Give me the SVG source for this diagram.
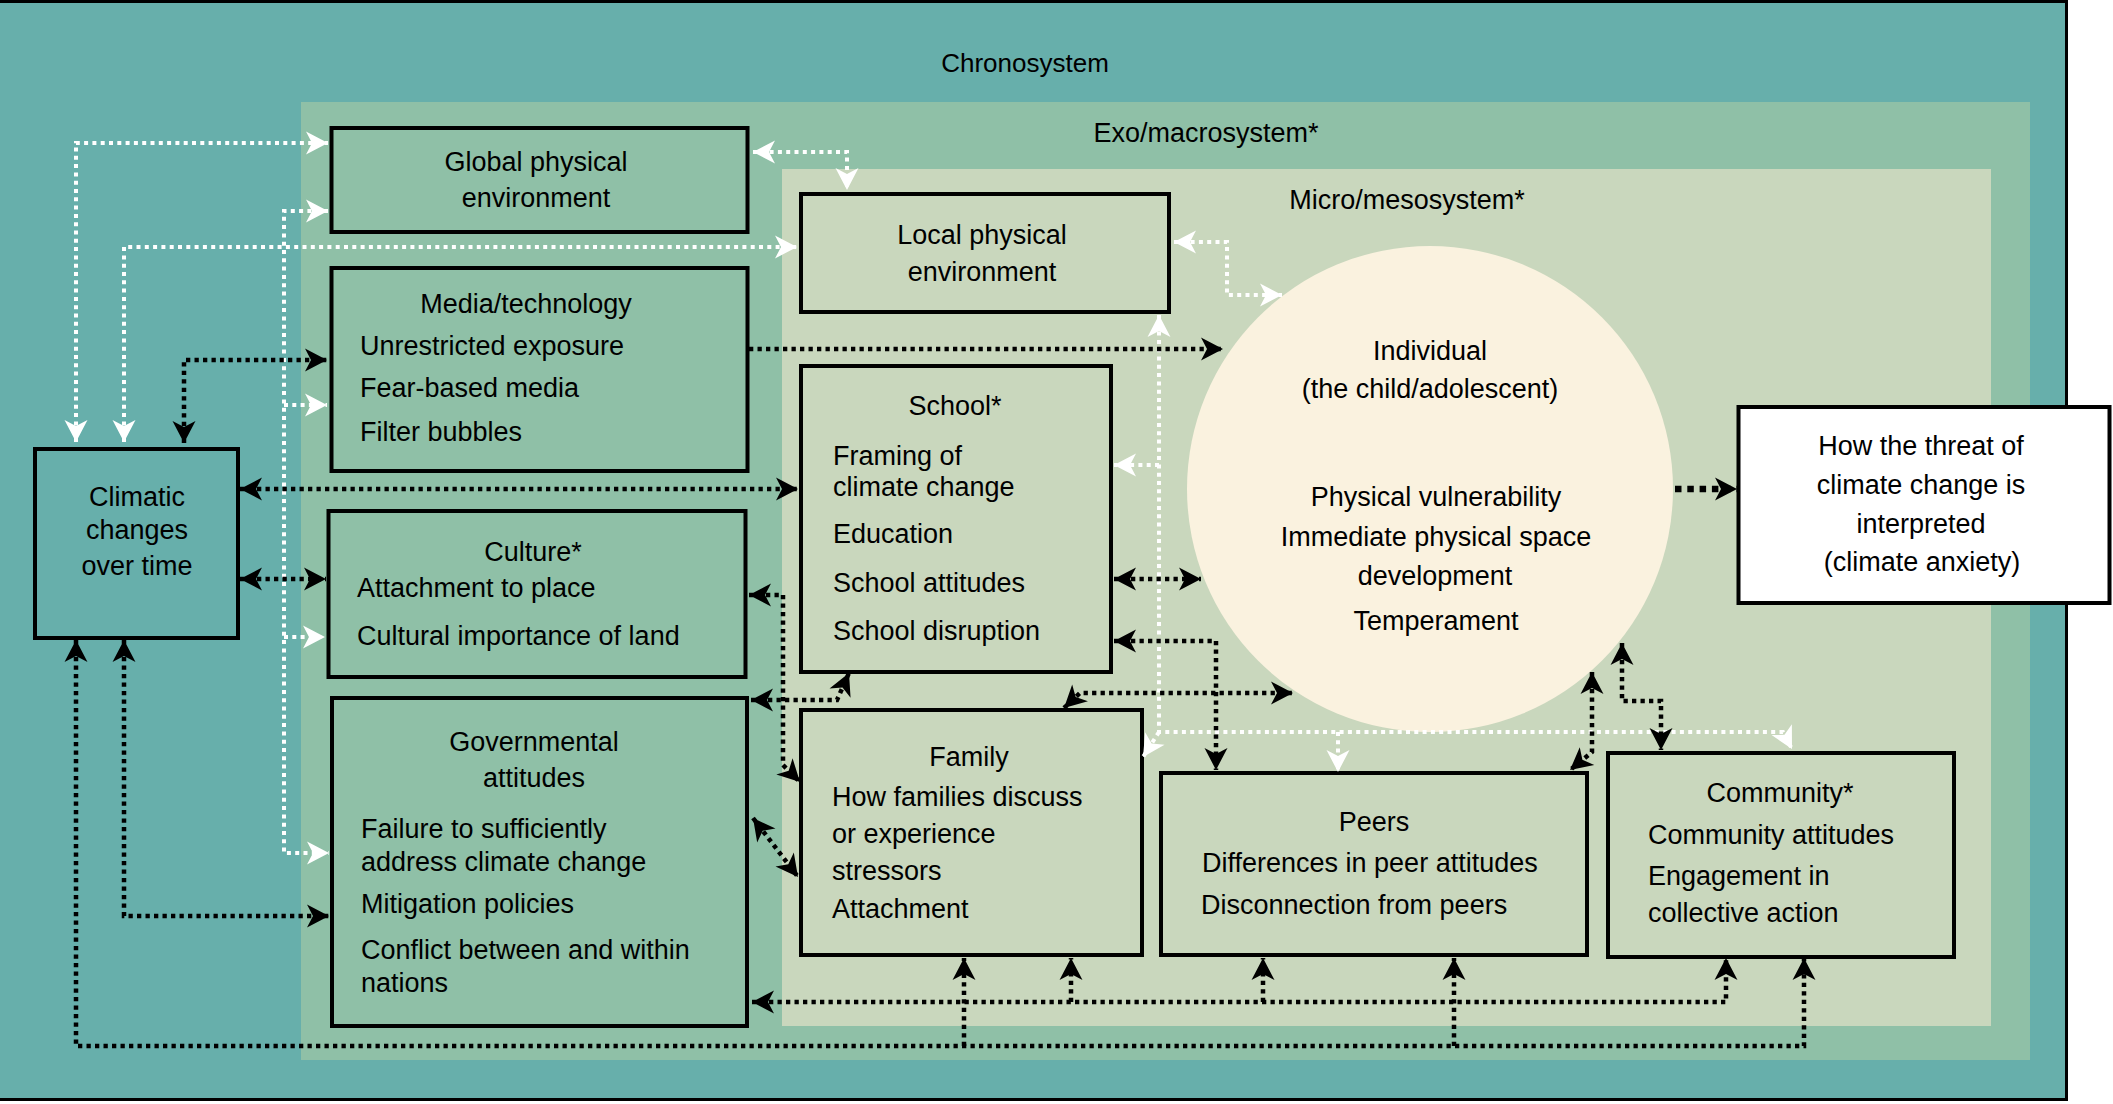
<svg xmlns="http://www.w3.org/2000/svg" width="2113" height="1104" viewBox="0 0 2113 1104">
<defs>
<style>
.t{font-family:"Liberation Sans",Arial,Helvetica,sans-serif;font-size:27px;fill:#000}
.c{text-anchor:middle}
.box{stroke:#000;stroke-width:4}
.fexo{fill:#8fc0a7}
.fmic{fill:#c9d7bd}
.fchr{fill:#67afab}
.w{fill:none;stroke:#fff;stroke-width:4;stroke-dasharray:4 4.3}
.b{fill:none;stroke:#000;stroke-width:4.5;stroke-dasharray:4.3 4.2}
.bt{fill:none;stroke:#000;stroke-width:6.5;stroke-dasharray:6.5 5.8}
</style>
<marker id="aw" viewBox="-24 -12 26 24" markerWidth="26" markerHeight="24" refX="0" refY="0" markerUnits="userSpaceOnUse" orient="auto-start-reverse">
<path d="M0,0 L-22,-11.5 L-16,0 L-22,11.5 Z" fill="#fff"/>
</marker>
<marker id="ab" viewBox="-24 -12 26 24" markerWidth="26" markerHeight="24" refX="0" refY="0" markerUnits="userSpaceOnUse" orient="auto-start-reverse">
<path d="M0,0 L-22,-11.5 L-16,0 L-22,11.5 Z" fill="#000"/>
</marker>
</defs>

<g id="chronosystem">
<rect x="-3" y="1.5" width="2069.5" height="1098" class="fchr" stroke="#000" stroke-width="3"/>
<text class="t c" x="1025" y="72" style="font-size:26px">Chronosystem</text>
</g>
<g id="exomacrosystem">
<rect x="301" y="102" width="1729" height="958" class="fexo"/>
<text class="t c" x="1206" y="142">Exo/macrosystem*</text>
</g>
<g id="micromesosystem">
<rect x="782" y="169" width="1209" height="857" class="fmic"/>
<text class="t c" x="1407" y="209">Micro/mesosystem*</text>
</g>

<g id="individual">
<circle cx="1430" cy="489" r="243" fill="#faf2df"/>
<text class="t c" x="1430" y="360">Individual</text>
<text class="t c" x="1430" y="398">(the child/adolescent)</text>
<text class="t c" x="1436" y="506">Physical vulnerability</text>
<text class="t c" x="1436" y="546">Immediate physical space</text>
<text class="t c" x="1435" y="585">development</text>
<text class="t c" x="1436" y="630">Temperament</text>
</g>

<g id="global-physical">
<rect x="331.5" y="128" width="416" height="104" class="box fexo"/>
<text class="t c" x="536" y="171">Global physical</text>
<text class="t c" x="536" y="207">environment</text>
</g>
<g id="media-technology">
<rect x="331.5" y="268" width="416" height="203" class="box fexo"/>
<text class="t c" x="526" y="313">Media/technology</text>
<text class="t" x="360" y="355">Unrestricted exposure</text>
<text class="t" x="360" y="397">Fear-based media</text>
<text class="t" x="360" y="441">Filter bubbles</text>
</g>
<g id="culture">
<rect x="328.5" y="511" width="417" height="166" class="box fexo"/>
<text class="t c" x="533" y="561">Culture*</text>
<text class="t" x="357" y="597">Attachment to place</text>
<text class="t" x="357" y="645">Cultural importance of land</text>
</g>
<g id="governmental-attitudes">
<rect x="332" y="698" width="415" height="328" class="box fexo"/>
<text class="t c" x="534" y="751">Governmental</text>
<text class="t c" x="534" y="787">attitudes</text>
<text class="t" x="361" y="838">Failure to sufficiently</text>
<text class="t" x="361" y="871">address climate change</text>
<text class="t" x="361" y="913">Mitigation policies</text>
<text class="t" x="361" y="959">Conflict between and within</text>
<text class="t" x="361" y="992">nations</text>
</g>
<g id="climatic-changes">
<rect x="35" y="449" width="203" height="189" class="box fchr"/>
<text class="t c" x="137" y="506">Climatic</text>
<text class="t c" x="137" y="539">changes</text>
<text class="t c" x="137" y="575">over time</text>
</g>
<g id="local-physical">
<rect x="801" y="194" width="368" height="118" class="box fmic"/>
<text class="t c" x="982" y="244">Local physical</text>
<text class="t c" x="982" y="281">environment</text>
</g>
<g id="school">
<rect x="801" y="366" width="310" height="306" class="box fmic"/>
<text class="t c" x="955" y="415">School*</text>
<text class="t" x="833" y="465">Framing of</text>
<text class="t" x="833" y="496">climate change</text>
<text class="t" x="833" y="543">Education</text>
<text class="t" x="833" y="592">School attitudes</text>
<text class="t" x="833" y="640">School disruption</text>
</g>
<g id="family">
<rect x="801" y="710" width="341" height="245" class="box fmic"/>
<text class="t c" x="969" y="766">Family</text>
<text class="t" x="832" y="806">How families discuss</text>
<text class="t" x="832" y="843">or experience</text>
<text class="t" x="832" y="880">stressors</text>
<text class="t" x="832" y="918">Attachment</text>
</g>
<g id="peers">
<rect x="1161" y="773" width="426" height="182" class="box fmic"/>
<text class="t c" x="1374" y="831">Peers</text>
<text class="t" x="1202" y="872">Differences in peer attitudes</text>
<text class="t" x="1201" y="914">Disconnection from peers</text>
</g>
<g id="community">
<rect x="1608" y="753" width="346" height="204" class="box fmic"/>
<text class="t c" x="1780" y="802">Community*</text>
<text class="t" x="1648" y="844">Community attitudes</text>
<text class="t" x="1648" y="885">Engagement in</text>
<text class="t" x="1648" y="922">collective action</text>
</g>

<g id="connectors">
<!-- white connectors -->
<path class="w" d="M76,442 V143 H328" marker-start="url(#aw)" marker-end="url(#aw)"/>
<path class="w" d="M124,442 V247 H797" marker-start="url(#aw)" marker-end="url(#aw)"/>
<path class="w" d="M328,211 H284 V853 H329" marker-start="url(#aw)" marker-end="url(#aw)"/>
<path class="w" d="M284,405 H327" marker-end="url(#aw)"/>
<path class="w" d="M284,637 H325" marker-end="url(#aw)"/>
<path class="w" d="M753,152 H847 V190" marker-start="url(#aw)" marker-end="url(#aw)"/>
<path class="w" d="M1174,242 H1227 V295 H1282" marker-start="url(#aw)" marker-end="url(#aw)"/>
<path class="w" d="M1159,315 V732 H1783 L1792,749" marker-start="url(#aw)" marker-end="url(#aw)"/>
<path class="w" d="M1159,465 H1114" marker-end="url(#aw)"/>
<path class="w" d="M1159,732 L1143,757" marker-end="url(#aw)"/>
<path class="w" d="M1338,732 V772" marker-end="url(#aw)"/>
<!-- black connectors -->
<path class="b" d="M184,443 V360 H327" marker-start="url(#ab)" marker-end="url(#ab)"/>
<path class="b" d="M240,489 H798" marker-start="url(#ab)" marker-end="url(#ab)"/>
<path class="b" d="M240,579 H326" marker-start="url(#ab)" marker-end="url(#ab)"/>
<path class="b" d="M124,640 V916 H329" marker-start="url(#ab)" marker-end="url(#ab)"/>
<path class="b" d="M76,640 V1046 H1804 V958" marker-start="url(#ab)" marker-end="url(#ab)"/>
<path class="b" d="M964,1046 V958" marker-end="url(#ab)"/>
<path class="b" d="M1454,1046 V958" marker-end="url(#ab)"/>
<path class="b" d="M752,1002 H1726 V958" marker-start="url(#ab)" marker-end="url(#ab)"/>
<path class="b" d="M1071,1002 V958" marker-end="url(#ab)"/>
<path class="b" d="M1263,1002 V958" marker-end="url(#ab)"/>
<path class="b" d="M749,349 H1223" marker-end="url(#ab)"/>
<path class="b" d="M749,595 H783 V765 L800,782" marker-start="url(#ab)" marker-end="url(#ab)"/>
<path class="b" d="M751,700 H837 L849,673" marker-start="url(#ab)" marker-end="url(#ab)"/>
<path class="b" d="M753,818 L798,877" marker-start="url(#ab)" marker-end="url(#ab)"/>
<path class="b" d="M1114,579 H1201" marker-start="url(#ab)" marker-end="url(#ab)"/>
<path class="b" d="M1114,641 H1216 V770" marker-start="url(#ab)" marker-end="url(#ab)"/>
<path class="b" d="M1064,708 L1080,693 H1293" marker-start="url(#ab)" marker-end="url(#ab)"/>
<path class="b" d="M1592,672 V752 L1570,770" marker-start="url(#ab)" marker-end="url(#ab)"/>
<path class="b" d="M1622,643 V701 H1661 V750" marker-start="url(#ab)" marker-end="url(#ab)"/>
<path class="bt" d="M1675,489 H1737" marker-end="url(#ab)"/>
</g>

<g id="threat-interpretation">
<rect x="1738.5" y="407" width="371" height="196" fill="#fff" class="box"/>
<text class="t c" x="1921" y="455">How the threat of</text>
<text class="t c" x="1921" y="494">climate change is</text>
<text class="t c" x="1921" y="533">interpreted</text>
<text class="t c" x="1922" y="571">(climate anxiety)</text>
</g>
</svg>
